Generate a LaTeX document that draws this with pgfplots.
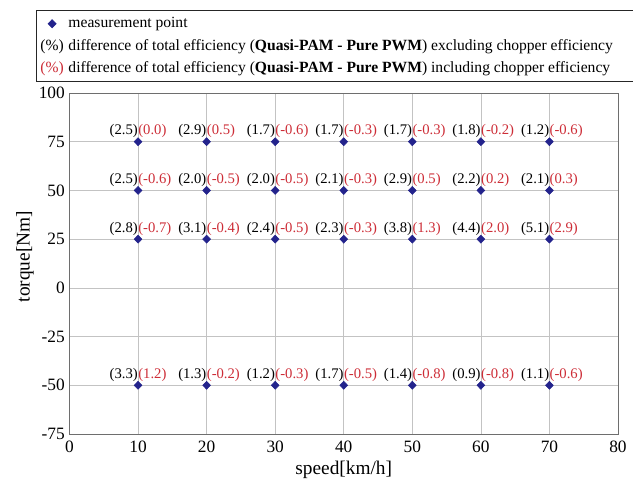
\documentclass[border=0pt]{standalone}
\usepackage{pgfplots}
\pgfplotsset{compat=1.18}
\usepackage{pgfplotstable}
\usepackage{fontspec}
\setmainfont{Liberation Serif}
\definecolor{ptblue}{RGB}{35,35,140}
\definecolor{lblred}{RGB}{205,45,55}
\definecolor{gridgray}{RGB}{195,195,195}
\definecolor{boxgray}{RGB}{110,110,110}
\pgfplotstableread{
x y a b
10 75 2.5 0.0
20 75 2.9 0.5
30 75 1.7 -0.6
40 75 1.7 -0.3
50 75 1.7 -0.3
60 75 1.8 -0.2
70 75 1.2 -0.6
10 50 2.5 -0.6
20 50 2.0 -0.5
30 50 2.0 -0.5
40 50 2.1 -0.3
50 50 2.9 0.5
60 50 2.2 0.2
70 50 2.1 0.3
10 25 2.8 -0.7
20 25 3.1 -0.4
30 25 2.4 -0.5
40 25 2.3 -0.3
50 25 3.8 1.3
60 25 4.4 2.0
70 25 5.1 2.9
10 -50 3.3 1.2
20 -50 1.3 -0.2
30 -50 1.2 -0.3
40 -50 1.7 -0.5
50 -50 1.4 -0.8
60 -50 0.9 -0.8
70 -50 1.1 -0.6
}\data
\begin{document}
\begin{tikzpicture}
\useasboundingbox (-52.125pt,-39pt) rectangle (422.625pt,325.5pt);
\begin{axis}[
  at={(0,0)}, anchor=south west,
  scale only axis, width=411.375pt, height=255.75pt,
  xmin=0, xmax=80, ymin=-75, ymax=100,
  xtick={0,10,...,80}, ytick={-75,-50,...,100},
  grid=major, major grid style={gridgray, line width=0.5pt},
  axis line style={boxgray, line width=0.6pt},
  major tick length=0pt,
  /pgf/number format/assume math mode=true,
  tick label style={font=\fontsize{13}{15}\selectfont},
  xticklabel style={yshift=-1.5pt},
  label style={font=\fontsize{14.5}{17}\selectfont},
  xlabel={speed[km/h]}, ylabel={torque[Nm]},
  xlabel style={at={(axis description cs:0.5,-0.106)}, anchor=center},
  ylabel style={at={(axis description cs:-0.081,0.52)}, anchor=center},
  legend style={at={(axis description cs:-0.061,1.244)}, anchor=north west,
    draw=black!85, line width=0.6pt, font=\fontsize{11.7}{13.5}\selectfont,
    row sep=3pt, inner xsep=1.5pt, inner ysep=3.5pt},
  legend cell align=left,
]
\addplot[forget plot, only marks, mark=none, point meta=explicit symbolic,
  nodes near coords={(\pgfplotspointmeta)},
  every node near coord/.append style={anchor=base east, inner sep=0pt, yshift=5.25pt, text=black, font=\fontsize{11}{13}\selectfont}]
  table[x=x, y=y, meta=a]{\data};
\addplot[forget plot, only marks, mark=none, point meta=explicit symbolic,
  nodes near coords={(\pgfplotspointmeta)},
  every node near coord/.append style={anchor=base west, inner sep=0pt, yshift=5.25pt, text=lblred, font=\fontsize{11}{13}\selectfont}]
  table[x=x, y=y, meta=b]{\data};
\addplot[only marks, mark=diamond*, mark size=3pt, color=ptblue, mark options={xscale=1.3},
  legend image code/.code={\path (0,0) (0.7cm,0); \draw[mark options={xscale=1.3}] plot coordinates {(0.35cm,0)};}]
  table[x=x, y=y]{\data};
\addlegendentry{measurement point}
\addlegendimage{legend image code/.code={\path (0,0) (0.7cm,0); \node[text=black, inner sep=0pt, anchor=center] at (0.35cm,0) {(\%)};}}
\addlegendentry{difference of total efficiency (\textbf{Quasi-PAM - Pure PWM}) excluding chopper efficiency\hspace*{14pt}}
\addlegendimage{legend image code/.code={\path (0,0) (0.7cm,0); \node[text=lblred, inner sep=0pt, anchor=center] at (0.35cm,0) {(\%)};}}
\addlegendentry{difference of total efficiency (\textbf{Quasi-PAM - Pure PWM}) including chopper efficiency}
\end{axis}
\end{tikzpicture}
\end{document}
